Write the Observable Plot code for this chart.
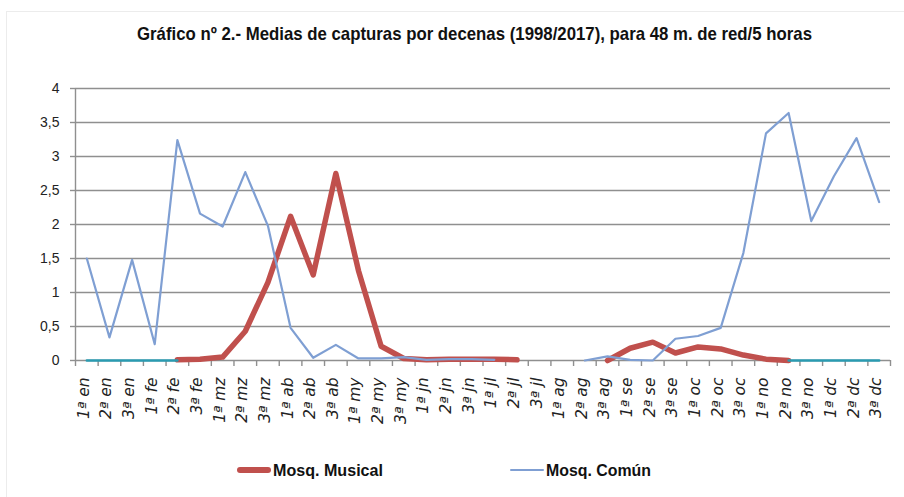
<!DOCTYPE html>
<html>
<head>
<meta charset="utf-8">
<script src="https://cdn.jsdelivr.net/npm/d3@7"></script>
<script src="https://cdn.jsdelivr.net/npm/@observablehq/plot@0.6"></script>
<style>
  body { margin: 0; background: #fff; }
  #wrap { position: relative; width: 904px; height: 497px; overflow: hidden; background: #fff;
          font-family: "Liberation Sans", Arial, sans-serif; }
  #frame { position: absolute; left: 6px; top: 11px; width: 920px; height: 500px; border: 1px solid #ececec; box-sizing: border-box; }
  .fit { position: absolute; white-space: nowrap; font-weight: bold; color: #111; transform-origin: 0 50%; line-height: 1; }
  #chart { position: absolute; left: 0; top: 66px; }
  .sw { position: absolute; border-radius: 3px; }
</style>
</head>
<body>
<div id="wrap">
  <div id="frame"></div>
  <span class="fit" id="title" data-left="137" data-cy="34" data-w="675" style="font-size:18.6px"></span>
  <div id="chart"></div>
  <div class="sw" id="sw1"></div>
  <span class="fit" id="lg1" data-left="273" data-cy="470" data-w="110" style="font-size:17px"></span>
  <div class="sw" id="sw2"></div>
  <span class="fit" id="lg2" data-left="546" data-cy="470" data-w="105" style="font-size:17px"></span>
</div>
<script>
// ---- data ----
const titleText = "Gráfico nº 2.- Medias de capturas por decenas (1998/2017), para 48 m. de red/5 horas";
const categories = ["1ª en","2ª en","3ª en","1ª fe","2ª fe","3ª fe","1ª mz","2ª mz","3ª mz",
  "1ª ab","2ª ab","3ª ab","1ª my","2ª my","3ª my","1ª jn","2ª jn","3ª jn",
  "1ª jl","2ª jl","3ª jl","1ª ag","2ª ag","3ª ag","1ª se","2ª se","3ª se",
  "1ª oc","2ª oc","3ª oc","1ª no","2ª no","3ª no","1ª dc","2ª dc","3ª dc"];
const seriesNames = ["Mosq. Musical", "Mosq. Común"];
const musical = [null,null,null,null,0.01,0.02,0.05,0.43,1.15,2.12,1.26,2.75,1.32,0.21,0.03,0.01,0.02,0.02,
  0.02,0.01,null,null,null,0.0,0.18,0.27,0.11,0.20,0.17,0.08,0.02,0.0,null,null,null,null];
const comun = [1.50,0.34,1.48,0.24,3.24,2.16,1.97,2.77,1.98,0.48,0.04,0.23,0.03,0.03,0.05,0.01,0.02,0.02,
  0.01,null,null,null,0.0,0.06,0.01,0.0,0.32,0.36,0.48,1.58,3.34,3.64,2.05,2.71,3.27,2.33];
const zeroSeries = [0,0,0,0,0,null,null,null,null,null,null,null,null,null,null,null,null,null,
  null,null,null,null,null,null,null,null,null,null,null,null,null,0,0,0,0,0];
const yTicks = [0,0.5,1,1.5,2,2.5,3,3.5,4];

const RED = "#c0504d", BLUE = "#7f9fd3", TEAL = "#2a9bb1", GRID = "#8f8f8f";

const toRows = arr => arr.map((v, i) => ({i, v: v == null ? NaN : v}));
const idx = d3.range(categories.length);
const bounds = d3.range(categories.length + 1).map(i => i - 0.5);

const chart = Plot.plot({
  width: 904, height: 364,
  marginLeft: 75, marginRight: 14, marginTop: 22, marginBottom: 70,
  x: {domain: [-0.5, categories.length - 0.5], label: null},
  y: {domain: [0, 4], label: null},
  style: {background: "transparent", fontFamily: "'Liberation Sans', Arial, sans-serif", color: "#222"},
  marks: [
    Plot.ruleY(yTicks, {stroke: GRID, strokeWidth: 1.4}),
    Plot.ruleX([-0.5], {y1: 0, y2: 4, stroke: GRID, strokeWidth: 1.4}),
    Plot.axisY({ticks: yTicks, tickSize: 5, tickPadding: 11, stroke: GRID, strokeWidth: 1.4, label: null,
      tickFormat: d => String(d).replace(".", ","), fontSize: 14, fill: "#222"}),
    Plot.axisX({ticks: bounds, tickSize: 6, tickFormat: () => "", stroke: GRID, strokeWidth: 1.4, label: null}),
    Plot.text(idx, {x: d => d, y: 0, text: d => categories[d], rotate: -90, textAnchor: "end",
      dy: 17, dx: -3, fontSize: 15.5, fontStyle: "italic", fill: "#222",
      fontFamily: "'DejaVu Sans', sans-serif"}),
    Plot.line(toRows(musical), {x: "i", y: "v", stroke: RED, strokeWidth: 5.5, strokeLinejoin: "round", strokeLinecap: "round"}),
    Plot.line(toRows(comun), {x: "i", y: "v", stroke: BLUE, strokeWidth: 2.2, strokeLinejoin: "round"}),
    Plot.line(toRows(zeroSeries), {x: "i", y: "v", stroke: TEAL, strokeWidth: 2.5})
  ]
});
document.getElementById("chart").appendChild(chart);

document.getElementById("title").textContent = titleText;
document.getElementById("lg1").textContent = seriesNames[0];
document.getElementById("lg2").textContent = seriesNames[1];

const LY = 470;
const sw1 = document.getElementById("sw1");
Object.assign(sw1.style, {left: "237px", top: (LY - 2.75) + "px", width: "34px", height: "5.5px", background: RED});
const sw2 = document.getElementById("sw2");
Object.assign(sw2.style, {left: "510px", top: (LY - 1.1) + "px", width: "34px", height: "2.2px", background: BLUE, borderRadius: "1px"});

document.querySelectorAll(".fit").forEach(el => {
  const r = el.getBoundingClientRect();
  const target = +el.dataset.w;
  el.style.left = el.dataset.left + "px";
  el.style.top = (+el.dataset.cy - r.height / 2) + "px";
  el.style.transform = `scaleX(${target / r.width})`;
});
</script>
</body>
</html>
